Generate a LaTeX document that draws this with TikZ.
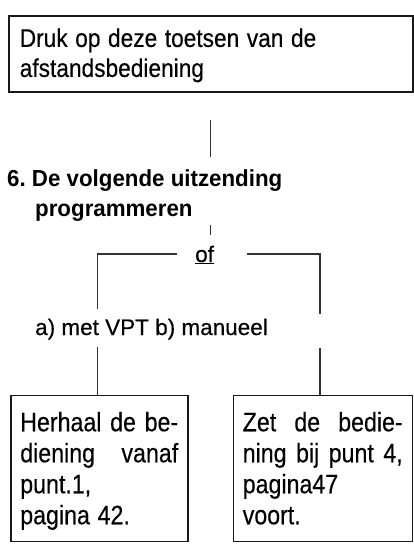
\documentclass[tikz,border=0pt]{standalone}
\usepackage{fontspec}
\setmainfont{Liberation Sans}[UprightFeatures={FakeBold=0.35}]
\frenchspacing
\newcommand\vsA[1]{\scalebox{1}[1.13]{#1}}
\newcommand\vsB[1]{\scalebox{1}[1.15]{#1}}
\begin{document}
\begin{tikzpicture}[x=1pt,y=-1pt,
  txt/.style={font=\fontsize{22.5}{30}\selectfont, inner sep=0pt},
  box/.style={draw=black!90, line width=1.5pt, inner ysep=0pt, align=left, font=\fontsize{23.2}{31}\selectfont},
  link/.style={draw=black!80, line width=1.1pt}]
\useasboundingbox (0,0) rectangle (414,546);

\node[box, text width=382pt, inner xsep=11pt, anchor=north west, font=\fontsize{22.7}{30}\selectfont] (top) at (8,15)
  {\rule{0pt}{31.2pt}\vsA{Druk op deze toetsen van de}\\\vsA{afstandsbediening}\rule[-14.8pt]{0pt}{14.8pt}};

\node[txt, font=\bfseries\fontsize{22.3}{30}\selectfont, anchor=north west, align=left] (head) at (7,166.7)
  {\rule{0pt}{20pt}\scalebox{1}[1.04]{6. De volgende uitzending}\\\hspace*{28pt}\scalebox{1}[1.04]{programmeren}\rule[-6pt]{0pt}{6pt}};

\node[txt, anchor=base west, text height=16pt, text depth=0pt] (of) at (195,262) {\underline{of}};

\node[txt, anchor=base west, text height=18pt, text depth=6pt] (ab) at (35,335) {a) met VPT b) manueel};

\node[box, text width=158pt, inner xsep=9.5pt, anchor=north west] (lbox) at (10,394.5)
  {\rule{0pt}{36pt}\vsB{\hbox to 158pt{Herhaal\hfill de\hfill be-}}\\\vsB{\hbox to 158pt{diening\hfill vanaf}}\\\vsB{punt.1,}\\\vsB{pagina 42.}\rule[-17pt]{0pt}{17pt}};

\node[box, text width=160pt, inner xsep=9.5pt, anchor=north west] (rbox) at (232.5,394.5)
  {\rule{0pt}{36pt}\vsB{\hbox to 160pt{Zet\hfill de\hfill bedie-}}\\\vsB{\hbox to 160pt{ning\hfill bij\hfill punt\hfill 4,}}\\\vsB{pagina47}\\\vsB{voort.}\rule[-17pt]{0pt}{17pt}};

\coordinate (lA) at (97.5,309);
\coordinate (lB) at (97.5,347);
\coordinate (rA) at (320,314);
\coordinate (rB) at (320,348);

\draw[link, shorten <=27pt, shorten >=9.7pt] (top.south) -- (top.south |- head.north);
\draw[link, shorten <=2.3pt, shorten >=11pt] (top.south |- head.south) -- (top.south |- of.north);
\draw[link] ([xshift=-18pt]of.west) -| (lA);
\draw[link] ([xshift=33pt]of.east) -| (rA);
\draw[link] (lB) -- (lB |- lbox.north);
\draw[link] (rB) -- (rB |- rbox.north);
\end{tikzpicture}
\end{document}
